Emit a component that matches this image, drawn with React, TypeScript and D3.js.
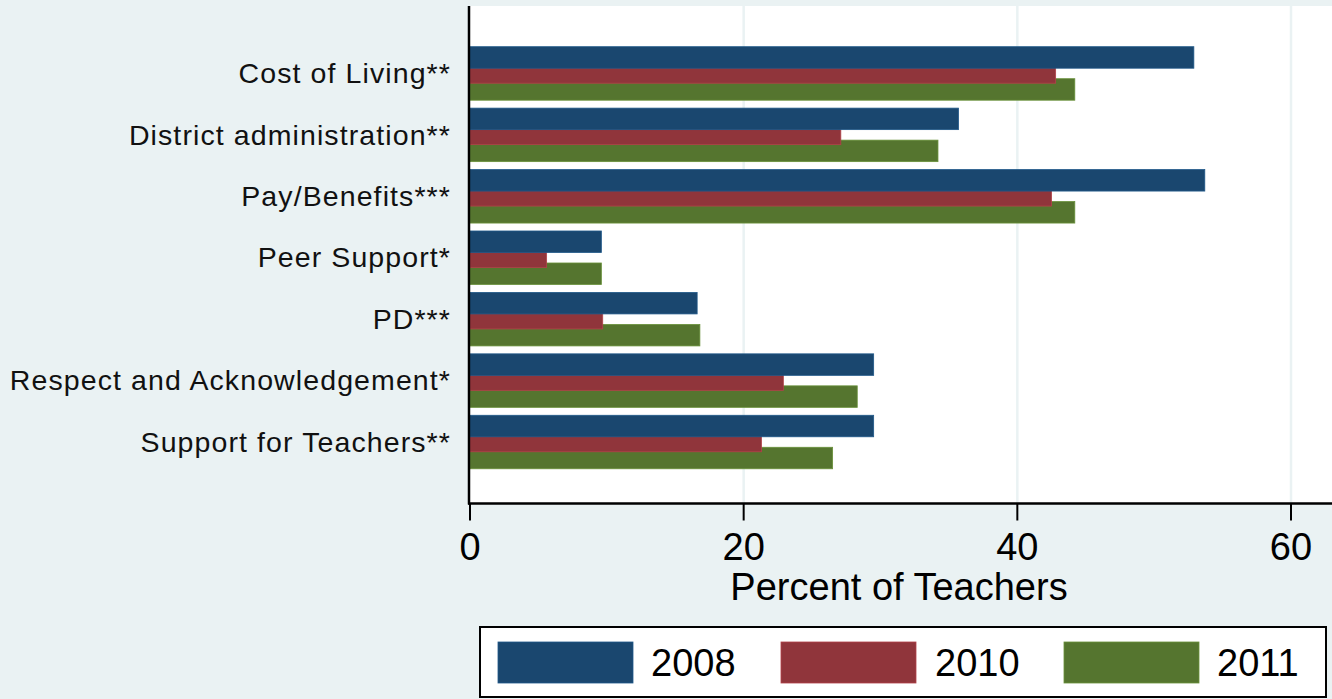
import React from "react";
import * as d3 from "d3";

const categories = [
  "Cost of Living**",
  "District administration**",
  "Pay/Benefits***",
  "Peer Support*",
  "PD***",
  "Respect and Acknowledgement*",
  "Support for Teachers**",
];
const seriesNames = ["2008", "2010", "2011"];
const values2008 = [52.9, 35.7, 53.7, 9.6, 16.6, 29.5, 29.5];
const values2010 = [42.8, 27.1, 42.5, 5.6, 9.7, 22.9, 21.3];
const values2011 = [44.2, 34.2, 44.2, 9.6, 16.8, 28.3, 26.5];
const xTicks = [0, 20, 40, 60];
const colors = ["#1a476f", "#90353b", "#55752f"];

const W = 1332;
const H = 699;
const FONT = "'Liberation Sans', Arial, Helvetica, sans-serif";

export default function App() {
  const plotLeft = 469;
  const plotRight = 1332;
  const plotTop = 6;
  const plotBottom = 503.5;

  const x = d3.scaleLinear().domain([0, 60]).range([470, 1291]);
  const y = d3
    .scaleBand<string>()
    .domain(categories)
    .range([46.7, 46.7 + 61.43 * categories.length])
    .paddingInner(0)
    .paddingOuter(0);

  const series = [values2008, values2010, values2011];
  const offsets = [0, 15, 32];
  const barH = 21.5;
  const groupCenter = 26.5;
  const drawOrder = [2, 1, 0];

  const legendItems = [
    { swX: 498, txX: 651 },
    { swX: 781, txX: 935 },
    { swX: 1064, txX: 1217 },
  ];

  return (
    <svg
      width={W}
      height={H}
      style={{ position: "absolute", left: 0, top: 0, display: "block" }}
      fontFamily={FONT}
    >
      <rect x={0} y={0} width={W} height={H} fill="#eaf2f3" />
      <rect
        x={plotLeft}
        y={plotTop}
        width={plotRight - plotLeft}
        height={plotBottom - plotTop}
        fill="#ffffff"
      />
      {xTicks
        .filter((t) => t > 0)
        .map((t) => (
          <line
            key={"g" + t}
            x1={x(t)}
            x2={x(t)}
            y1={plotTop}
            y2={plotBottom}
            stroke="#eaf2f3"
            strokeWidth={2.5}
          />
        ))}
      {drawOrder.map((si) =>
        categories.map((c, i) => {
          const v = series[si][i];
          return (
            <rect
              key={si + "-" + i}
              x={x(0)}
              y={(y(c) as number) + offsets[si]}
              width={x(v) - x(0)}
              height={barH}
              fill={colors[si]}
              stroke={d3.color(colors[si])!.brighter(0.6).toString()}
              strokeWidth={0.8}
            />
          );
        })
      )}
      {categories.map((c) => (
        <text
          key={"l" + c}
          x={451}
          y={(y(c) as number) + groupCenter}
          textAnchor="end"
          dominantBaseline="central"
          fontSize={28.5}
          letterSpacing={1.1}
          fill="#111"
        >
          {c}
        </text>
      ))}
      <line x1={469} x2={469} y1={plotTop} y2={plotBottom + 1} stroke="#000" strokeWidth={2.5} />
      <line x1={468} x2={plotRight} y1={plotBottom} y2={plotBottom} stroke="#000" strokeWidth={2.5} />
      {xTicks.map((t) => (
        <g key={"t" + t}>
          <line
            x1={x(t)}
            x2={x(t)}
            y1={plotBottom}
            y2={plotBottom + 17}
            stroke="#000"
            strokeWidth={2}
          />
          <text x={x(t)} y={560} textAnchor="middle" fontSize={38} fill="#000">
            {t}
          </text>
        </g>
      ))}
      <text x={899} y={600} textAnchor="middle" fontSize={38} fill="#000">
        Percent of Teachers
      </text>
      <rect x={480} y={627} width={846} height={70} fill="#ffffff" stroke="#000" strokeWidth={2} />
      {seriesNames.map((s, i) => (
        <g key={"lg" + s}>
          <rect
            x={legendItems[i].swX}
            y={642}
            width={135}
            height={41}
            fill={colors[i]}
            stroke={d3.color(colors[i])!.brighter(0.6).toString()}
            strokeWidth={0.8}
          />
          <text x={legendItems[i].txX} y={676} fontSize={38} fill="#000">
            {s}
          </text>
        </g>
      ))}
    </svg>
  );
}
